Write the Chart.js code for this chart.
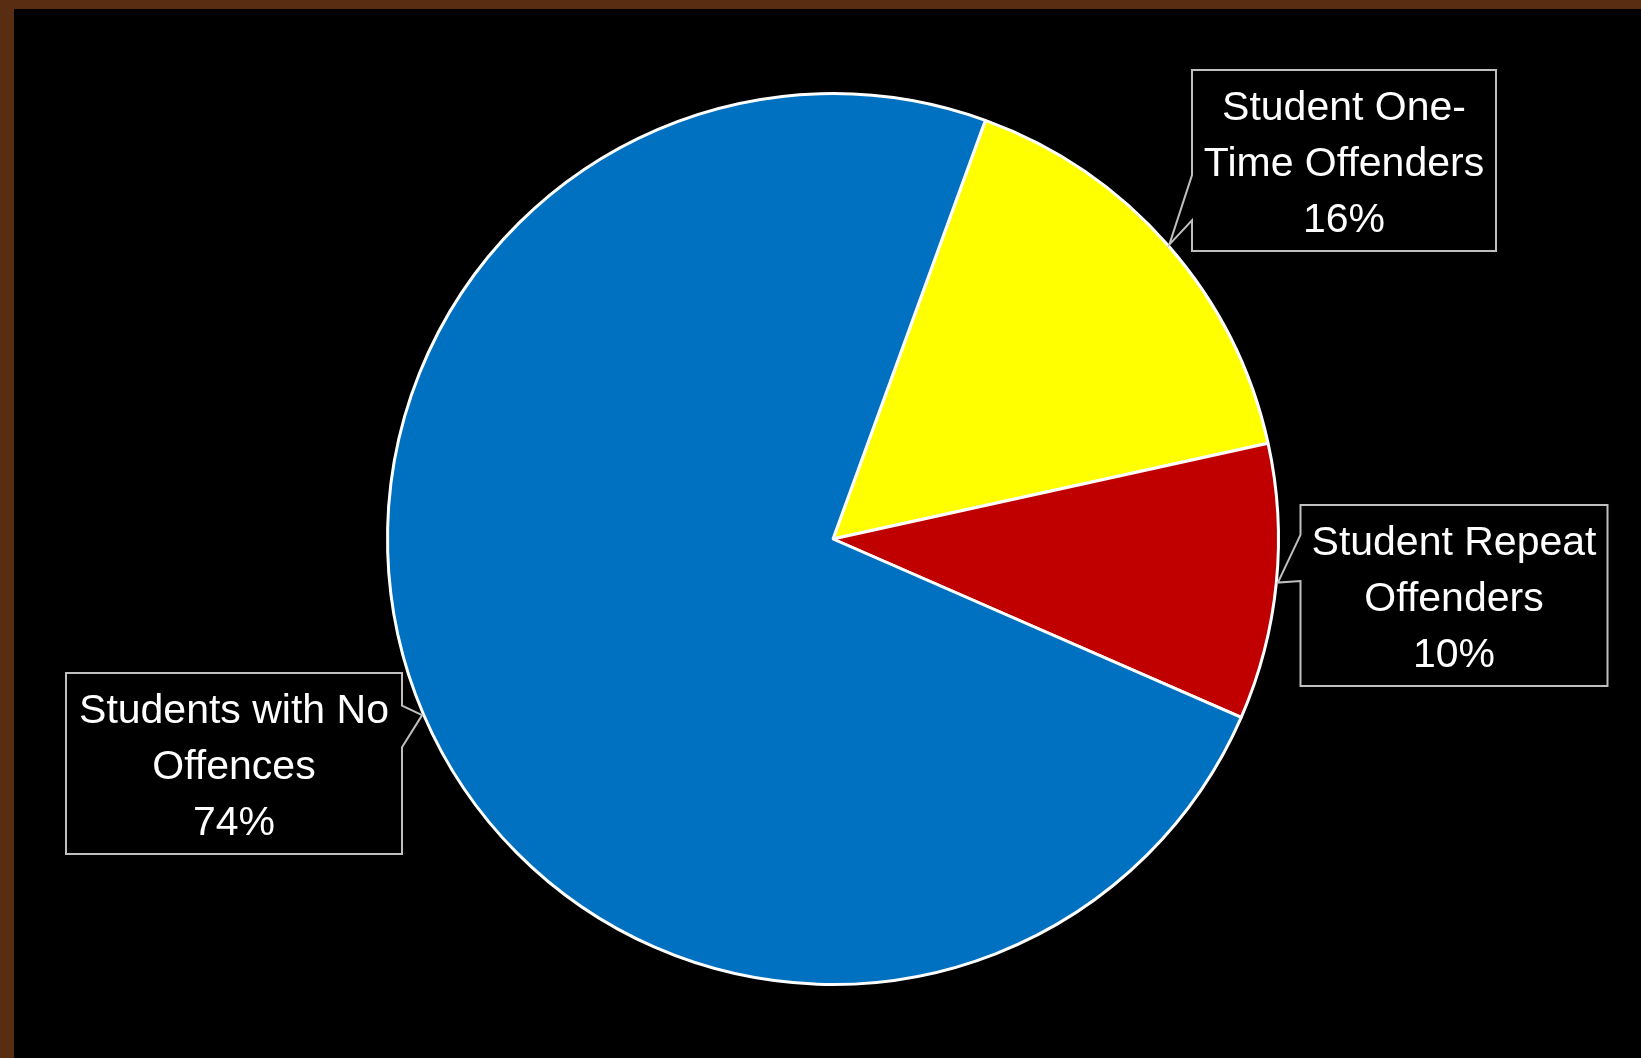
<!DOCTYPE html>
<html>
<head>
<meta charset="utf-8">
<script src="https://cdn.jsdelivr.net/npm/chart.js@4/dist/chart.umd.min.js"></script>
<style>
  html, body { margin: 0; padding: 0; }
  body { width: 1641px; height: 1058px; background: #592d12; overflow: hidden; position: relative; }
  #frame { position: absolute; left: 14px; top: 9px; width: 1627px; height: 1049px; background: #000; }
  canvas { display: block; }
</style>
</head>
<body>
<div id="frame"><canvas id="c" width="1627" height="1049"></canvas></div>
<script>
// Student offence breakdown
const categories = ["Student One-Time Offenders", "Student Repeat Offenders", "Students with No Offences"];
const labelLines = [["Student One-", "Time Offenders"], ["Student Repeat", "Offenders"], ["Students with No", "Offences"]];
const shares = [16, 10, 74];
const sliceColors = ["#ffff00", "#c00000", "#0070c0"];

// Callout boxes: centre/top offsets from the pie centre, width, and which edge carries the pointer
const callouts = [
  { dx: 511, top: -469, w: 304, side: "left", n0: 0.58, n1: 0.83 },
  { dx: 621, top: -34, w: 307, side: "left", n0: 0.165, n1: 0.42 },
  { dx: -599, top: 134, w: 336, side: "right", n0: 0.18, n1: 0.41 }
];
const BOX_H = 181;
const LINE_GAP = 56;
const FIRST_BASELINE = 50;
const FONT = "41px 'Liberation Sans', Arial, sans-serif";

const calloutPlugin = {
  id: "calloutLabels",
  afterDatasetsDraw(chart) {
    const ctx = chart.ctx;
    const meta = chart.getDatasetMeta(0);
    meta.data.forEach((arc, i) => {
      const p = arc.getProps(["x", "y", "startAngle", "endAngle", "outerRadius"], true);
      const mid = (p.startAngle + p.endAngle) / 2;
      const r = p.outerRadius + 1.5;
      const tipX = p.x + Math.cos(mid) * r;
      const tipY = p.y + Math.sin(mid) * r;
      const c = callouts[i];
      const left = p.x + c.dx - c.w / 2;
      const right = left + c.w;
      const top = p.y + c.top;
      const bottom = top + BOX_H;
      const ny0 = top + BOX_H * c.n0;
      const ny1 = top + BOX_H * c.n1;

      ctx.save();
      ctx.beginPath();
      ctx.moveTo(left, top);
      ctx.lineTo(right, top);
      if (c.side === "right") {
        ctx.lineTo(right, ny0);
        ctx.lineTo(tipX, tipY);
        ctx.lineTo(right, ny1);
      }
      ctx.lineTo(right, bottom);
      ctx.lineTo(left, bottom);
      if (c.side === "left") {
        ctx.lineTo(left, ny1);
        ctx.lineTo(tipX, tipY);
        ctx.lineTo(left, ny0);
      }
      ctx.closePath();
      ctx.fillStyle = "#000000";
      ctx.fill();
      ctx.lineWidth = 2;
      ctx.strokeStyle = "#bfbfbf";
      ctx.lineJoin = "miter";
      ctx.stroke();

      ctx.fillStyle = "#ffffff";
      ctx.font = FONT;
      ctx.textAlign = "center";
      ctx.textBaseline = "alphabetic";
      const lines = labelLines[i].concat([shares[i] + "%"]);
      const cx = (left + right) / 2;
      lines.forEach((t, k) => {
        ctx.fillText(t, cx, top + FIRST_BASELINE + k * LINE_GAP);
      });
      ctx.restore();
    });
  }
};

new Chart(document.getElementById("c"), {
  type: "pie",
  data: {
    labels: categories,
    datasets: [{
      data: shares,
      backgroundColor: sliceColors,
      borderColor: "#ffffff",
      borderWidth: 3
    }]
  },
  options: {
    responsive: false,
    animation: false,
    rotation: 20,
    layout: { padding: { top: 83, bottom: 72, left: 372, right: 361 } },
    plugins: {
      legend: { display: false },
      tooltip: { enabled: false }
    }
  },
  plugins: [calloutPlugin]
});
</script>
</body>
</html>
